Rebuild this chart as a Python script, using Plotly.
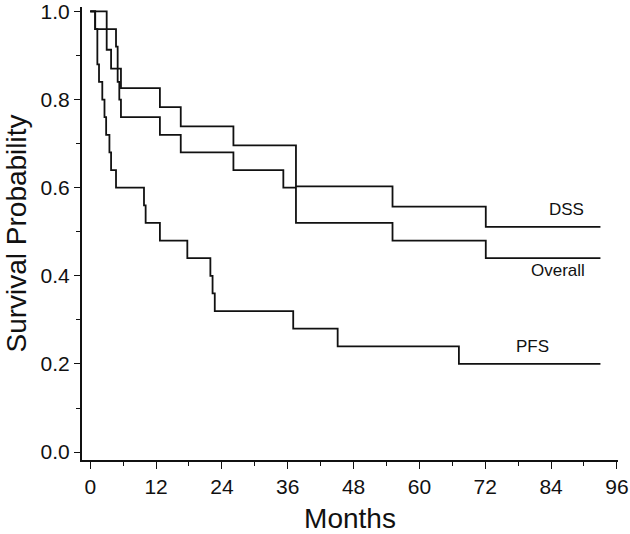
import plotly.graph_objects as go

# Kaplan-Meier step data (months, survival probability)
overall_t = [0, 0.9, 4.7, 5.0, 5.3, 5.6, 12.7, 16.5, 26.1, 35.2, 37.5, 55.1, 72.1, 93.0]
overall_s = [1.0, 0.96, 0.92, 0.84, 0.80, 0.76, 0.72, 0.68, 0.64, 0.60, 0.52, 0.48, 0.44, 0.44]

dss_t = [0, 3.0, 3.8, 5.6, 12.7, 16.5, 26.1, 37.5, 55.1, 72.1, 93.0]
dss_s = [1.0, 0.913, 0.870, 0.826, 0.783, 0.739, 0.696, 0.603, 0.557, 0.511, 0.511]

pfs_t = [0, 0.9, 1.3, 1.6, 2.2, 2.6, 2.9, 3.5, 3.8, 4.7, 9.8, 10.1, 12.7,
         17.7, 21.9, 22.3, 22.7, 37.0, 45.1, 67.2, 93.0]
pfs_s = [1.0, 0.96, 0.88, 0.84, 0.80, 0.76, 0.72, 0.68, 0.64, 0.60, 0.56, 0.52, 0.48,
         0.44, 0.40, 0.36, 0.32, 0.28, 0.24, 0.20, 0.20]

labels = ['DSS', 'Overall', 'PFS']
label_x = [86.8, 85.2, 80.7]
label_y = [0.55, 0.413, 0.239]

x_ticks = [0, 12, 24, 36, 48, 60, 72, 84, 96]
y_ticks = [0.0, 0.2, 0.4, 0.6, 0.8, 1.0]

FONT = 'Liberation Sans, Arial, sans-serif'

fig = go.Figure()

for t, s in [(dss_t, dss_s), (overall_t, overall_s), (pfs_t, pfs_s)]:
    fig.add_trace(go.Scatter(
        x=t, y=s, mode='lines',
        line=dict(color='#111111', width=1.8, shape='hv'),
        showlegend=False, hoverinfo='skip'
    ))

for txt, lx, ly in zip(labels, label_x, label_y):
    fig.add_annotation(
        x=lx, y=ly, text=txt, showarrow=False,
        font=dict(family=FONT, size=17, color='#111111')
    )

fig.update_layout(
    width=630, height=534,
    margin=dict(l=82, r=12, t=7, b=74),
    paper_bgcolor='white',
    plot_bgcolor='white',
    font=dict(family=FONT, color='#111111'),
    xaxis=dict(
        range=[-1.5, 96.2],
        tickvals=x_ticks,
        ticktext=[str(v) for v in x_ticks],
        showgrid=False, zeroline=False,
        showline=True, linecolor='#111111', linewidth=2,
        ticks='outside', ticklen=7, tickwidth=1, tickcolor='#111111',
        minor=dict(dtick=6, tick0=0, ticks='outside', ticklen=4, tickcolor='#111111'),
        tickfont=dict(size=21),
        ticklabeloverflow='allow',
        automargin=False,
        title=dict(text='Months', font=dict(size=28), standoff=11),
    ),
    yaxis=dict(
        range=[-0.018, 1.01],
        tickvals=y_ticks,
        ticktext=['%.1f' % v for v in y_ticks],
        showgrid=False, zeroline=False,
        showline=True, linecolor='#111111', linewidth=2,
        ticks='outside', ticklen=6, tickwidth=1, tickcolor='#111111',
        minor=dict(dtick=0.1, tick0=0, ticks='outside', ticklen=4, tickcolor='#111111'),
        tickfont=dict(size=21),
        ticklabeloverflow='allow',
        automargin=False,
        title=dict(text='Survival Probability', font=dict(size=28), standoff=6),
    ),
)

# drop the default page margin so the figure sits at the window's corner
fig.write_html("out.html", config={'displayModeBar': False},
               post_script="document.body.style.margin='0';")
